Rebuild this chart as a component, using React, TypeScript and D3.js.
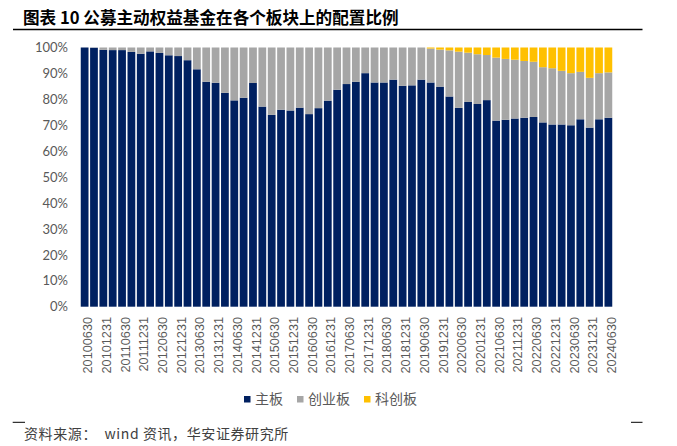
import React from "react";
import * as d3 from "d3";

const categories = [
  "20100630", "20100930", "20101231", "20110331", "20110630", "20110930", "20111231", "20120331",
  "20120630", "20120930", "20121231", "20130331", "20130630", "20130930", "20131231", "20140331",
  "20140630", "20140930", "20141231", "20150331", "20150630", "20150930", "20151231", "20160331",
  "20160630", "20160930", "20161231", "20170331", "20170630", "20170930", "20171231", "20180331",
  "20180630", "20180930", "20181231", "20190331", "20190630", "20190930", "20191231", "20200331",
  "20200630", "20200930", "20201231", "20210331", "20210630", "20210930", "20211231", "20220331",
  "20220630", "20220930", "20221231", "20230331", "20230630", "20230930", "20231231", "20240331",
  "20240630",
];

// 主板
const mainBoard = [
  100, 99.9, 99.1, 99.0, 99.0, 98.3, 97.6, 98.5, 97.9, 97.0, 96.7, 95.1, 91.6, 86.8, 86.4, 82.5,
  79.6, 80.6, 86.3, 77.2, 74.0, 76.0, 75.7, 76.8, 74.3, 76.6, 79.5, 83.7, 85.9, 86.8, 90.1, 86.5,
  86.5, 87.6, 85.2, 85.4, 87.6, 86.5, 84.9, 81.1, 76.7, 79.0, 78.2, 79.7, 71.8, 72.1, 72.6, 72.9,
  73.2, 71.1, 70.3, 70.3, 70.0, 72.3, 69.1, 72.3, 72.9,
];

// 创业板
const chiNext = [
  0, 0.1, 0.9, 1.0, 1.0, 1.7, 2.4, 1.5, 2.1, 3.0, 3.3, 4.9, 8.4, 13.2, 13.6, 17.5,
  20.4, 19.4, 13.7, 22.8, 26.0, 24.0, 24.3, 23.2, 25.7, 23.4, 20.5, 16.3, 14.1, 13.2, 9.9, 13.5,
  13.5, 12.4, 14.8, 14.6, 12.4, 13.1, 14.3, 17.8, 21.7, 19.0, 19.2, 17.4, 24.3, 23.5, 22.7, 21.9,
  21.3, 21.3, 21.7, 20.7, 20.1, 18.3, 19.2, 17.8, 17.5,
];

// 科创板
const starMarket = [
  0, 0, 0, 0, 0, 0, 0, 0, 0, 0, 0, 0, 0, 0, 0, 0,
  0, 0, 0, 0, 0, 0, 0, 0, 0, 0, 0, 0, 0, 0, 0, 0,
  0, 0, 0, 0, 0, 0.4, 0.8, 1.1, 1.6, 2.0, 2.6, 2.9, 3.9, 4.4, 4.7, 5.2,
  5.5, 7.6, 8.0, 9.0, 9.9, 9.4, 11.7, 9.9, 9.6,
];

const seriesNames = ["主板", "创业板", "科创板"];
const colors = ["#002060", "#A6A6A6", "#FFC000"];
const yTicks = [0, 10, 20, 30, 40, 50, 60, 70, 80, 90, 100];

const width = 677;
const height = 446;

export default function App() {
  const rows = categories.map((c, i) => ({
    date: c,
    主板: mainBoard[i],
    创业板: chiNext[i],
    科创板: starMarket[i],
  }));

  const stacked = d3.stack<any>().keys(seriesNames)(rows);

  const x = d3
    .scaleBand<string>()
    .domain(categories)
    .range([80, 613])
    .paddingInner(0.17)
    .paddingOuter(0.08);

  const y = d3.scaleLinear().domain([0, 100]).range([306.7, 47.5]);

  // legend positions
  const legendX = [244, 297, 364];

  return (
    <svg
      width={width}
      height={height}
      style={{ position: "absolute", left: 0, top: 0, background: "#fff" }}
    >
      {/* title */}
      <text
        x={23}
        y={23.5}
        fontFamily="'Noto Sans CJK SC', sans-serif"
        fontWeight="bold"
        fontSize={16.6}
        fill="#000"
      >
        图表 10 公募主动权益基金在各个板块上的配置比例
      </text>
      <line x1={13} x2={642.5} y1={29.5} y2={29.5} stroke="#000" strokeWidth={1.3} />

      {/* bars */}
      {stacked.map((s, si) => (
        <g key={s.key} fill={colors[si]}>
          {s.map((d: any) => (
            <rect
              key={d.data.date}
              x={x(d.data.date)}
              y={y(d[1])}
              width={x.bandwidth()}
              height={Math.max(0, y(d[0]) - y(d[1]))}
            />
          ))}
        </g>
      ))}

      {/* y axis labels */}
      {yTicks.map((t) => (
        <text
          key={t}
          x={68}
          y={y(t)}
          dy="0.36em"
          textAnchor="end"
          fontFamily="Lato, 'Liberation Sans', sans-serif"
          fontSize={13}
          fill="#595959"
        >
          {t}%
        </text>
      ))}

      {/* x axis labels, every other category */}
      {categories
        .filter((_, i) => i % 2 === 0)
        .map((c) => {
          const cx = (x(c) as number) + x.bandwidth() / 2 + 3;
          return (
            <text
              key={c}
              transform={`translate(${cx},317) rotate(-90)`}
              dy="0.36em"
              textAnchor="end"
              fontFamily="'Liberation Sans', Arial, sans-serif"
              fontSize={12.7}
              fill="#595959"
            >
              {c}
            </text>
          );
        })}

      {/* legend */}
      {seriesNames.map((n, i) => (
        <g key={n}>
          <rect x={legendX[i]} y={396} width={6.5} height={6.5} fill={colors[i]} />
          <text
            x={legendX[i] + 11}
            y={399.3}
            dy="0.36em"
            fontFamily="'Noto Sans CJK SC', sans-serif"
            fontSize={14}
            fill="#595959"
          >
            {n}
          </text>
        </g>
      ))}

      {/* source */}
      <line x1={12.7} x2={25} y1={422.3} y2={422.3} stroke="#000" strokeWidth={1} />
      <line x1={631} x2={642.5} y1={422.3} y2={422.3} stroke="#000" strokeWidth={1} />
      <text
        x={24}
        y={434}
        dy="0.36em"
        fontFamily="'Noto Sans CJK SC', sans-serif"
        fontSize={14}
        letterSpacing={0.6}
        fill="#404040"
      >
        资料来源：{"\u00a0\u00a0"}wind 资讯，华安证券研究所
      </text>
    </svg>
  );
}
